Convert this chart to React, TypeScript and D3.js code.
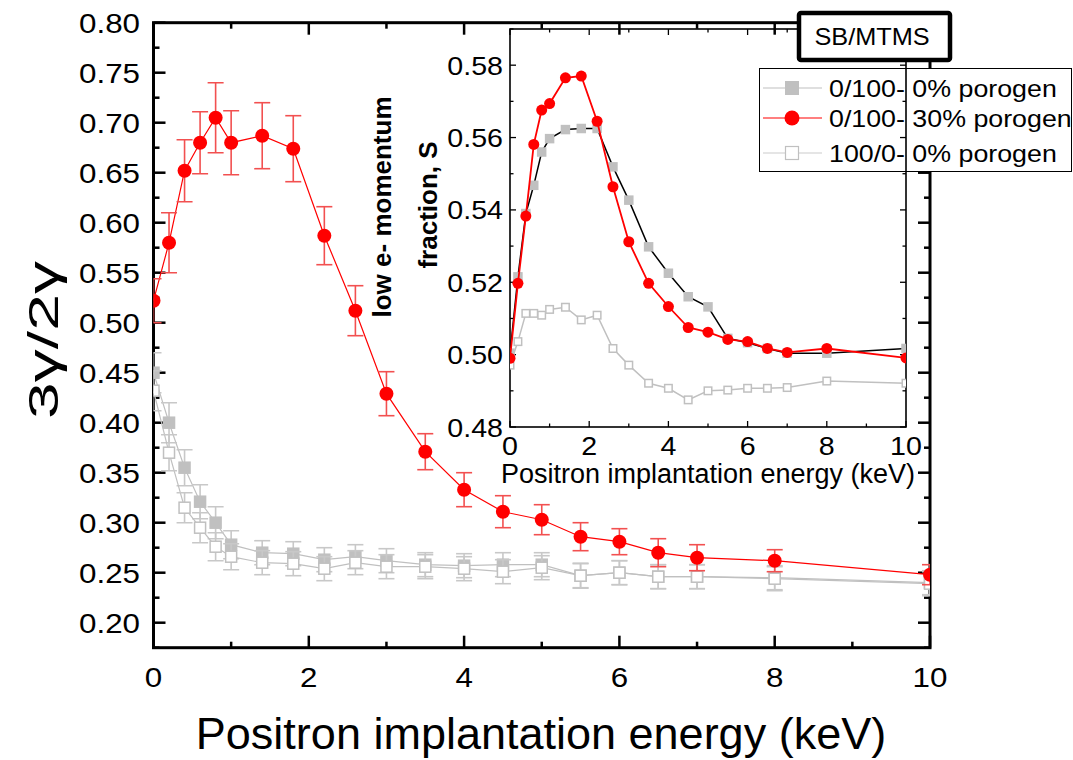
import React, { useEffect, useRef } from "react";
import * as d3 from "d3";

// main plot: 3gamma/2gamma ratio vs implantation energy
const energy = [0, 0.2, 0.4, 0.6, 0.8, 1.0, 1.4, 1.8, 2.2, 2.6, 3.0, 3.5, 4.0, 4.5, 5.0, 5.5, 6.0, 6.5, 7.0, 8.0, 10];
const ratioPor30 = [0.522, 0.580, 0.652, 0.680, 0.705, 0.680, 0.687, 0.674, 0.587, 0.512, 0.429, 0.371, 0.333, 0.311, 0.303, 0.286, 0.281, 0.270, 0.265, 0.262, 0.248];
const ratioPor30Err = [0.022, 0.03, 0.031, 0.031, 0.035, 0.032, 0.033, 0.033, 0.029, 0.025, 0.022, 0.018, 0.017, 0.016, 0.015, 0.014, 0.013, 0.014, 0.013, 0.011, 0.01];
const ratioPor0 = [0.450, 0.400, 0.355, 0.321, 0.300, 0.278, 0.270, 0.269, 0.263, 0.266, 0.262, 0.258, 0.257, 0.258, 0.258, 0.247, 0.250, 0.246, 0.246, 0.245, 0.240];
const ratioPor0Err = [0.02, 0.02, 0.018, 0.017, 0.016, 0.014, 0.012, 0.012, 0.012, 0.012, 0.012, 0.012, 0.012, 0.012, 0.012, 0.012, 0.012, 0.012, 0.012, 0.012, 0.012];
const ratioSB = [0.432, 0.370, 0.315, 0.295, 0.276, 0.266, 0.260, 0.259, 0.254, 0.260, 0.256, 0.256, 0.254, 0.251, 0.255, 0.247, 0.250, 0.246, 0.246, 0.244, 0.239];
const ratioSBErr = [0.02, 0.018, 0.015, 0.015, 0.014, 0.013, 0.012, 0.012, 0.012, 0.012, 0.012, 0.012, 0.012, 0.012, 0.012, 0.0125, 0.012, 0.012, 0.012, 0.012, 0.012];

// inset: S parameter
const sPor0 = [0.5004, 0.5215, 0.5390, 0.5468, 0.5560, 0.5597, 0.5622, 0.5625, 0.5625, 0.5519, 0.5427, 0.5298, 0.5225, 0.5160, 0.5132, 0.5045, 0.5033, 0.5017, 0.5004, 0.5004, 0.5017];
const sPor30 = [0.4990, 0.5197, 0.5383, 0.5581, 0.5676, 0.5694, 0.5765, 0.5770, 0.5645, 0.5464, 0.5312, 0.5197, 0.5133, 0.5075, 0.5062, 0.5042, 0.5036, 0.5017, 0.5006, 0.5017, 0.4991];
const sSB = [0.4971, 0.5036, 0.5114, 0.5114, 0.5109, 0.5125, 0.5131, 0.5096, 0.5109, 0.5017, 0.4971, 0.4921, 0.4907, 0.4875, 0.4900, 0.4902, 0.4907, 0.4907, 0.4909, 0.4927, 0.4921];

const mainYTicks = [0.20, 0.25, 0.30, 0.35, 0.40, 0.45, 0.50, 0.55, 0.60, 0.65, 0.70, 0.75, 0.80];
const xTicks = [0, 2, 4, 6, 8, 10];
const insetYTicks = [0.48, 0.50, 0.52, 0.54, 0.56, 0.58];
const legendLabels = ["0/100- 0% porogen", "0/100- 30% porogen", "100/0- 0% porogen"];

const RED = "#ff0000";
const GRAY = "#c0c0c0";
const FONT = "Arial, 'Liberation Sans', sans-serif";

function App() {
  const ref = useRef<SVGSVGElement>(null);

  useEffect(() => {
    const svg = d3.select(ref.current);
    svg.selectAll("*").remove();

    const x = d3.scaleLinear().domain([0, 10]).range([153.5, 930]);
    const y = d3.scaleLinear().domain([0.175, 0.8]).range([647.7, 22.7]);
    const ix = d3.scaleLinear().domain([0, 10]).range([510, 906]);
    const iy = d3.scaleLinear().domain([0.48, 0.59]).range([427, 29]);

    const defs = svg.append("defs");
    defs.append("clipPath").attr("id", "clipMain").append("rect")
      .attr("x", x(0)).attr("y", 0).attr("width", x(10) - x(0)).attr("height", 760);
    defs.append("clipPath").attr("id", "clipInset").append("rect")
      .attr("x", ix(0)).attr("y", 0).attr("width", ix(10) - ix(0)).attr("height", 760);

    // ---- main frame & ticks
    const frame = svg.append("g");
    const [x0, x1] = x.range();
    const [y0, y1] = [y(0.175), y(0.8)];
    const minorY = d3.range(0.175, 0.8001, 0.025).filter(v => Math.abs((v * 40) % 2 - 1) < 0.01);
    const minorX = [1, 3, 5, 7, 9];

    mainYTicks.forEach(v => {
      frame.append("line").attr("x1", x0).attr("x2", x0 + 12).attr("y1", y(v)).attr("y2", y(v));
      frame.append("line").attr("x1", x1).attr("x2", x1 - 12).attr("y1", y(v)).attr("y2", y(v));
    });
    minorY.forEach(v => {
      frame.append("line").attr("x1", x0).attr("x2", x0 + 6).attr("y1", y(v)).attr("y2", y(v));
      frame.append("line").attr("x1", x1).attr("x2", x1 - 6).attr("y1", y(v)).attr("y2", y(v));
    });
    xTicks.forEach(v => {
      frame.append("line").attr("x1", x(v)).attr("x2", x(v)).attr("y1", y0).attr("y2", y0 - 12);
      frame.append("line").attr("x1", x(v)).attr("x2", x(v)).attr("y1", y1).attr("y2", y1 + 12);
    });
    minorX.forEach(v => {
      frame.append("line").attr("x1", x(v)).attr("x2", x(v)).attr("y1", y0).attr("y2", y0 - 6);
      frame.append("line").attr("x1", x(v)).attr("x2", x(v)).attr("y1", y1).attr("y2", y1 + 6);
    });
    frame.selectAll("line").attr("stroke", "#000").attr("stroke-width", 2.5);
    frame.append("rect").attr("x", x0).attr("y", y1).attr("width", x1 - x0).attr("height", y0 - y1)
      .attr("fill", "none").attr("stroke", "#000").attr("stroke-width", 3);

    // main tick labels
    mainYTicks.forEach(v => {
      svg.append("text").text(v.toFixed(2))
        .attr("transform", `translate(140,${y(v) + 10}) scale(1.12,1)`)
        .attr("text-anchor", "end").attr("font-size", 28).attr("font-family", FONT);
    });
    xTicks.forEach(v => {
      svg.append("text").text(v)
        .attr("transform", `translate(${x(v)},687) scale(1.12,1)`)
        .attr("text-anchor", "middle").attr("font-size", 28).attr("font-family", FONT);
    });
    svg.append("text").text("Positron implantation energy (keV)")
      .attr("x", 541).attr("y", 749).attr("text-anchor", "middle")
      .attr("font-size", 45).attr("font-family", FONT);
    svg.append("text").text("3γ/2γ")
      .attr("transform", "translate(58,340) rotate(-90)")
      .attr("text-anchor", "middle").attr("font-size", 43).attr("font-family", FONT)
      .attr("textLength", 158).attr("lengthAdjust", "spacingAndGlyphs");

    // ---- main data
    const data = svg.append("g").attr("clip-path", "url(#clipMain)");
    const drawSeries = (g: any, sx: any, sy: any, vals: number[], errs: number[] | null,
      lineColor: string, lineW: number, errColor: string, marker: string, mSize: number) => {
      const pts = energy.map((e, i) => [e, vals[i]] as [number, number]);
      g.append("path").attr("d", d3.line().x(d => sx(d[0])).y(d => sy(d[1]))(pts))
        .attr("fill", "none").attr("stroke", lineColor).attr("stroke-width", lineW);
      if (errs) {
        pts.forEach((p, i) => {
          const cx = sx(p[0]);
          const top = sy(p[1] + errs[i]);
          const bot = sy(p[1] - errs[i]);
          const eg = g.append("g").attr("stroke", errColor).attr("stroke-width", 1.6);
          eg.append("line").attr("x1", cx).attr("x2", cx).attr("y1", top).attr("y2", bot);
          eg.append("line").attr("x1", cx - 8).attr("x2", cx + 8).attr("y1", top).attr("y2", top);
          eg.append("line").attr("x1", cx - 8).attr("x2", cx + 8).attr("y1", bot).attr("y2", bot);
        });
      }
      pts.forEach(p => {
        const cx = sx(p[0]), cy = sy(p[1]);
        if (marker === "circle") {
          g.append("circle").attr("cx", cx).attr("cy", cy).attr("r", mSize / 2).attr("fill", RED);
        } else if (marker === "square") {
          g.append("rect").attr("x", cx - mSize / 2).attr("y", cy - mSize / 2)
            .attr("width", mSize).attr("height", mSize).attr("fill", GRAY);
        } else {
          g.append("rect").attr("x", cx - mSize / 2 + 0.75).attr("y", cy - mSize / 2 + 0.75)
            .attr("width", mSize - 1.5).attr("height", mSize - 1.5)
            .attr("fill", "#fff").attr("stroke", GRAY).attr("stroke-width", 1.5);
        }
      });
    };

    drawSeries(data, x, y, ratioPor0, ratioPor0Err, GRAY, 1.2, "#c8c8c8", "square", 12.5);
    drawSeries(data, x, y, ratioSB, ratioSBErr, GRAY, 1.2, "#c8c8c8", "open", 12.5);
    drawSeries(data, x, y, ratioPor30, ratioPor30Err, RED, 1.2, "#f25050", "circle", 14);

    // ---- legend
    const leg = svg.append("g");
    leg.append("rect").attr("x", 759.5).attr("y", 68.5).attr("width", 312).attr("height", 103)
      .attr("fill", "#fff").attr("stroke", "#000").attr("stroke-width", 1);
    const rowY = [88, 118, 153];
    const legColors = [GRAY, RED, "#cccccc"];
    const legMarkers = ["square", "circle", "open"];
    rowY.forEach((ry, i) => {
      leg.append("line").attr("x1", 763).attr("x2", 822).attr("y1", ry).attr("y2", ry)
        .attr("stroke", legColors[i]).attr("stroke-width", 1.2);
      if (legMarkers[i] === "circle") {
        leg.append("circle").attr("cx", 792).attr("cy", ry).attr("r", 7.5).attr("fill", RED);
      } else if (legMarkers[i] === "square") {
        leg.append("rect").attr("x", 785).attr("y", ry - 7).attr("width", 14).attr("height", 14).attr("fill", GRAY);
      } else {
        leg.append("rect").attr("x", 785.5).attr("y", ry - 6.5).attr("width", 13).attr("height", 13)
          .attr("fill", "#fff").attr("stroke", GRAY).attr("stroke-width", 1.2);
      }
      leg.append("text").text(legendLabels[i])
        .attr("transform", `translate(829,${ry + 8.5}) scale(1.14,1)`)
        .attr("font-size", 23.5).attr("font-family", FONT);
    });

    // ---- inset
    const inset = svg.append("g");
    const [ix0, ix1] = ix.range();
    const [iy0, iy1] = [iy(0.48), iy(0.59)];
    const insetMinorY = [0.49, 0.51, 0.53, 0.55, 0.57, 0.59];
    const ticks = inset.append("g").attr("stroke", "#000").attr("stroke-width", 1.3);
    insetYTicks.forEach(v => {
      ticks.append("line").attr("x1", ix0).attr("x2", ix0 + 6).attr("y1", iy(v)).attr("y2", iy(v));
      ticks.append("line").attr("x1", ix1).attr("x2", ix1 - 6).attr("y1", iy(v)).attr("y2", iy(v));
    });
    insetMinorY.forEach(v => {
      ticks.append("line").attr("x1", ix0).attr("x2", ix0 + 3.5).attr("y1", iy(v)).attr("y2", iy(v));
      ticks.append("line").attr("x1", ix1).attr("x2", ix1 - 3.5).attr("y1", iy(v)).attr("y2", iy(v));
    });
    xTicks.forEach(v => {
      ticks.append("line").attr("x1", ix(v)).attr("x2", ix(v)).attr("y1", iy0).attr("y2", iy0 - 6);
      ticks.append("line").attr("x1", ix(v)).attr("x2", ix(v)).attr("y1", iy1).attr("y2", iy1 + 6);
    });
    minorX.forEach(v => {
      ticks.append("line").attr("x1", ix(v)).attr("x2", ix(v)).attr("y1", iy0).attr("y2", iy0 - 3.5);
      ticks.append("line").attr("x1", ix(v)).attr("x2", ix(v)).attr("y1", iy1).attr("y2", iy1 + 3.5);
    });
    inset.append("rect").attr("x", ix0).attr("y", iy1).attr("width", ix1 - ix0).attr("height", iy0 - iy1)
      .attr("fill", "none").attr("stroke", "#000").attr("stroke-width", 1.6);

    insetYTicks.forEach(v => {
      inset.append("text").text(v.toFixed(2))
        .attr("transform", `translate(503,${iy(v) + 9.5}) scale(1.1,1)`)
        .attr("text-anchor", "end").attr("font-size", 26).attr("font-family", FONT);
    });
    xTicks.forEach(v => {
      inset.append("text").text(v)
        .attr("transform", `translate(${ix(v)},455) scale(1.1,1)`)
        .attr("text-anchor", "middle").attr("font-size", 26).attr("font-family", FONT);
    });
    inset.append("text").text("Positron implantation energy (keV)")
      .attr("x", 708).attr("y", 483).attr("text-anchor", "middle")
      .attr("font-size", 27).attr("font-family", FONT);
    inset.append("text").text("low e- momentum")
      .attr("transform", "translate(391,207) rotate(-90)").attr("text-anchor", "middle")
      .attr("font-size", 26).attr("font-weight", "bold").attr("font-family", FONT);
    inset.append("text").text("fraction, S")
      .attr("transform", "translate(437,205) rotate(-90)").attr("text-anchor", "middle")
      .attr("font-size", 26).attr("font-weight", "bold").attr("font-family", FONT);

    const idata = inset.append("g").attr("clip-path", "url(#clipInset)");
    drawSeries(idata, ix, iy, sSB, null, GRAY, 1.5, GRAY, "open", 9);
    drawSeries(idata, ix, iy, sPor0, null, "#000", 1.5, GRAY, "square", 9.5);
    drawSeries(idata, ix, iy, sPor30, null, RED, 1.8, RED, "circle", 11);

    // ---- sample box
    svg.append("rect").attr("x", 799).attr("y", 13).attr("width", 151).attr("height", 47).attr("rx", 2)
      .attr("fill", "#fff").attr("stroke", "#000").attr("stroke-width", 4.5);
    svg.append("text").text("SB/MTMS")
      .attr("transform", "translate(872,45) scale(1.1,1)").attr("text-anchor", "middle")
      .attr("font-size", 23).attr("font-family", FONT);
  }, []);

  return (
    <svg ref={ref} width={1073} height={760}
      style={{ position: "absolute", left: 0, top: 0, background: "#fff" }} />
  );
}

export default App;
